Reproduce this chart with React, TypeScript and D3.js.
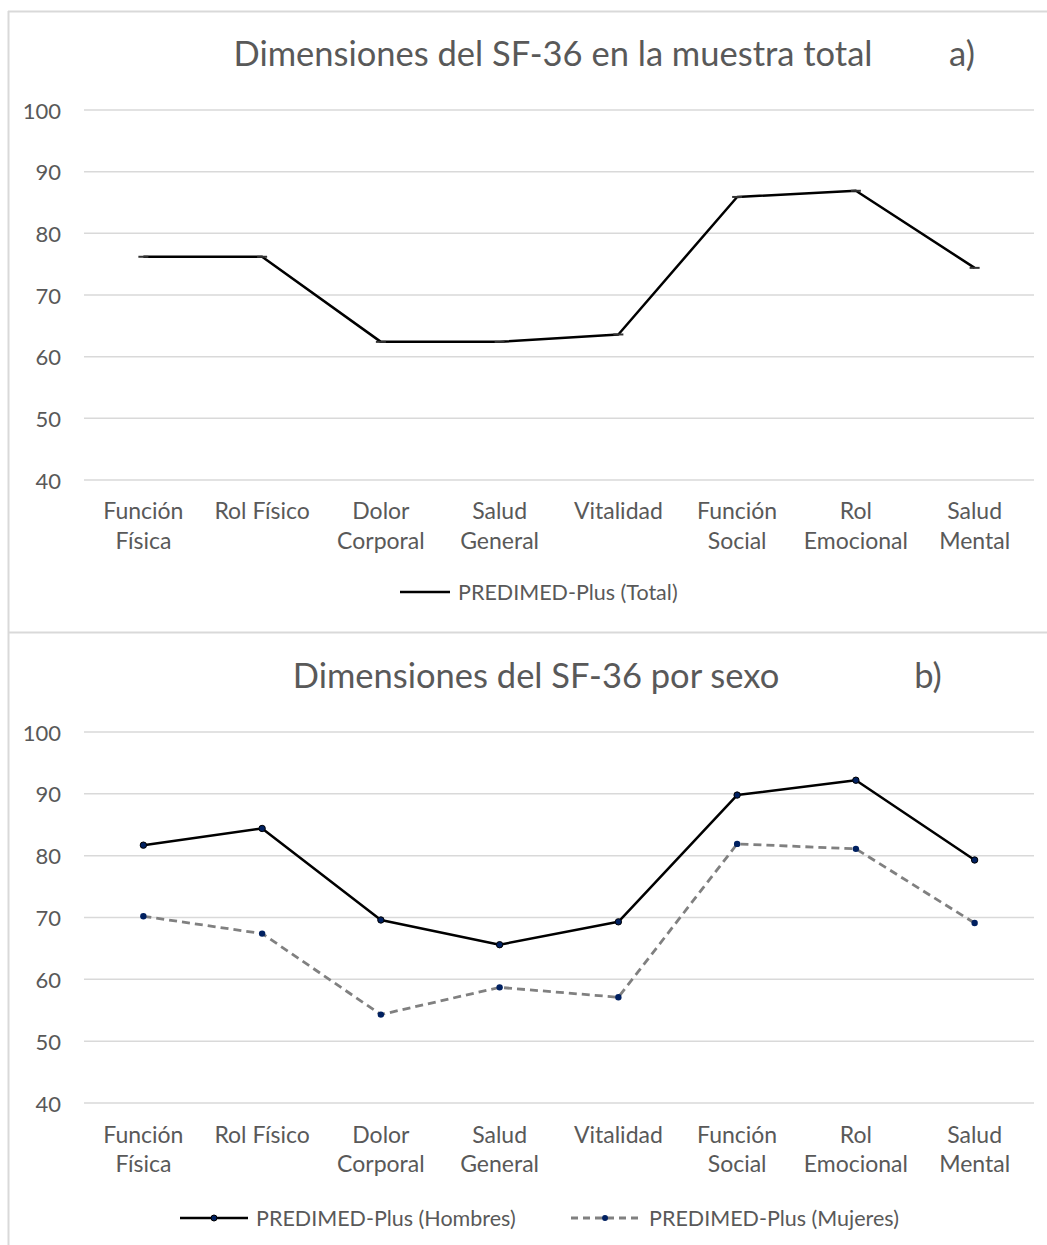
import React from "react";
import * as d3 from "d3";

// SF-36 dimensions (two-line category labels)
const categories: string[][] = [
  ["Función", "Física"],
  ["Rol Físico"],
  ["Dolor", "Corporal"],
  ["Salud", "General"],
  ["Vitalidad"],
  ["Función", "Social"],
  ["Rol", "Emocional"],
  ["Salud", "Mental"],
];

const totalValues = [76.2, 76.2, 62.4, 62.4, 63.6, 85.9, 86.9, 74.4];
const hombresValues = [81.7, 84.4, 69.6, 65.6, 69.3, 89.8, 92.2, 79.3];
const mujeresValues = [70.2, 67.4, 54.3, 58.7, 57.1, 81.9, 81.1, 69.1];

const yTicks = [40, 50, 60, 70, 80, 90, 100];

const W = 1047;
const H = 1245;
const FONT = "Lato, 'Open Sans', sans-serif";
const TEXT = "#595959";
const GRID = "#d9d9d9";
const NAVY = "#002060";

const keys = categories.map((_, i) => String(i));
const x = d3.scalePoint<string>().domain(keys).range([84, 1034]).padding(0.5);

type PanelProps = {
  y: d3.ScaleLinear<number, number>;
  labelY: number;
  labelGap: number;
};

function Axes({ y, labelY, labelGap }: PanelProps) {
  return (
    <g>
      {yTicks.map((t) => (
        <g key={t}>
          <line x1={84} x2={1034} y1={y(t)} y2={y(t)} stroke={GRID} strokeWidth={1.5} />
          <text
            x={61}
            y={y(t)}
            textAnchor="end"
            dominantBaseline="central"
            fontSize={22}
            fill={TEXT}
            fontFamily={FONT}
          >
            {t}
          </text>
        </g>
      ))}
      {categories.map((lines, i) => (
        <text
          key={i}
          x={x(String(i))}
          y={labelY}
          textAnchor="middle"
          fontSize={23}
          fill={TEXT}
          fontFamily={FONT}
        >
          {lines.map((l, j) => (
            <tspan key={j} x={x(String(i))} dy={j === 0 ? 0 : labelGap}>
              {l}
            </tspan>
          ))}
        </text>
      ))}
    </g>
  );
}

export default function App() {
  const yA = d3.scaleLinear().domain([40, 100]).range([480, 110]);
  const yB = d3.scaleLinear().domain([40, 100]).range([1103, 732]);

  const lineA = d3
    .line<number>()
    .x((_, i) => x(String(i)) as number)
    .y((d) => yA(d));
  const lineB = d3
    .line<number>()
    .x((_, i) => x(String(i)) as number)
    .y((d) => yB(d));

  return (
    <svg
      width={W}
      height={H}
      style={{ position: "absolute", left: 0, top: 0, background: "#fff" }}
    >
      <rect x={0} y={0} width={W} height={H} fill="#fff" />
      {/* chart frames */}
      <line x1={8.5} x2={8.5} y1={11} y2={H} stroke={GRID} strokeWidth={2} />
      <line x1={8} x2={W} y1={11.5} y2={11.5} stroke={GRID} strokeWidth={2} />
      <line x1={8} x2={W} y1={632.5} y2={632.5} stroke={GRID} strokeWidth={2} />

      {/* Panel a */}
      <text x={553} y={66} textAnchor="middle" fontSize={34.5} fill={TEXT} fontFamily={FONT}>
        Dimensiones del SF-36 en la muestra total
      </text>
      <text x={962} y={66} textAnchor="middle" fontSize={34.5} fill={TEXT} fontFamily={FONT}>
        a)
      </text>
      <Axes y={yA} labelY={519} labelGap={30} />
      <path d={lineA(totalValues) ?? ""} fill="none" stroke="#000" strokeWidth={2.5} strokeLinejoin="round" />
      {totalValues.map((v, i) => (
        <line
          key={i}
          x1={(x(String(i)) as number) - 5}
          x2={(x(String(i)) as number) + 5}
          y1={yA(v)}
          y2={yA(v)}
          stroke="#333"
          strokeWidth={2}
        />
      ))}
      <line x1={400} x2={450} y1={592} y2={592} stroke="#000" strokeWidth={2.5} />
      <text x={458} y={592} dominantBaseline="central" fontSize={21.5} fill={TEXT} fontFamily={FONT}>
        PREDIMED-Plus (Total)
      </text>

      {/* Panel b */}
      <text x={536} y={688} textAnchor="middle" fontSize={34.5} fill={TEXT} fontFamily={FONT}>
        Dimensiones del SF-36 por sexo
      </text>
      <text x={928} y={688} textAnchor="middle" fontSize={34.5} fill={TEXT} fontFamily={FONT}>
        b)
      </text>
      <Axes y={yB} labelY={1143} labelGap={29} />
      <path
        d={lineB(mujeresValues) ?? ""}
        fill="none"
        stroke="#808080"
        strokeWidth={2.8}
        strokeDasharray="8,5"
      />
      <path d={lineB(hombresValues) ?? ""} fill="none" stroke="#000" strokeWidth={2.5} strokeLinejoin="round" />
      {mujeresValues.map((v, i) => (
        <circle key={"m" + i} cx={x(String(i))} cy={yB(v)} r={3.2} fill={NAVY} />
      ))}
      {hombresValues.map((v, i) => (
        <circle key={"h" + i} cx={x(String(i))} cy={yB(v)} r={3.2} fill={NAVY} stroke="#000" strokeWidth={1} />
      ))}

      {/* legend b */}
      <line x1={180} x2={248} y1={1218} y2={1218} stroke="#000" strokeWidth={2.5} />
      <circle cx={214} cy={1218} r={3} fill={NAVY} stroke="#000" strokeWidth={1} />
      <text x={256} y={1218} dominantBaseline="central" fontSize={21.5} fill={TEXT} fontFamily={FONT}>
        PREDIMED-Plus (Hombres)
      </text>
      <line x1={571} x2={640} y1={1218} y2={1218} stroke="#808080" strokeWidth={2.8} strokeDasharray="7,5" />
      <circle cx={605} cy={1218} r={3} fill={NAVY} />
      <text x={649} y={1218} dominantBaseline="central" fontSize={21.5} fill={TEXT} fontFamily={FONT}>
        PREDIMED-Plus (Mujeres)
      </text>
    </svg>
  );
}
